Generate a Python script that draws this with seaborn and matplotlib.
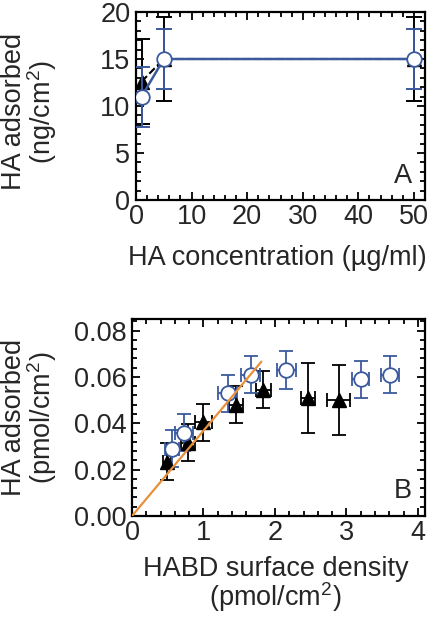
import numpy as np
import pandas as pd
import matplotlib
matplotlib.use("Agg")
import matplotlib.pyplot as plt
from matplotlib.ticker import MultipleLocator
import seaborn as sns

# Panel A: HA adsorbed vs HA concentration
conc = [1, 5, 50]
tri_a = [12.6, 15.0, 15.0]
tri_a_err = [4.5, 4.5, 4.5]
circ_a = [11.0, 15.0, 15.0]
circ_a_err = [3.2, 3.2, 3.2]

# Panel B: HA adsorbed vs HABD surface density
tri_x = [0.49, 0.78, 1.00, 1.46, 1.84, 2.46, 2.89]
tri_y = [0.0235, 0.0317, 0.0405, 0.048, 0.0545, 0.051, 0.050]
tri_xerr = [0.05, 0.10, 0.12, 0.10, 0.10, 0.10, 0.16]
tri_yerr = [0.008, 0.008, 0.008, 0.008, 0.008, 0.015, 0.015]
circ_x = [0.56, 0.73, 1.34, 1.66, 2.16, 3.20, 3.61]
circ_y = [0.029, 0.036, 0.053, 0.061, 0.063, 0.059, 0.061]
circ_xerr = [0.10, 0.13, 0.13, 0.13, 0.13, 0.12, 0.13]
circ_yerr = [0.008, 0.008, 0.008, 0.008, 0.008, 0.008, 0.008]
fit_x = [0.0, 1.81]
fit_y = [0.0, 0.0666]

BLUE = "#3b5a9d"
ORANGE = "#e8903a"

sns.set_style("ticks")
plt.rcParams["font.family"] = ["Liberation Sans", "DejaVu Sans"]
plt.rcParams["mathtext.fontset"] = "custom"
plt.rcParams["mathtext.rm"] = "Liberation Sans"
FS = 19.5
LS = 0.9

fig = plt.figure(figsize=(4.32, 6.18), dpi=100)
axA = fig.add_axes([136 / 432, 1 - 200 / 618, 289 / 432, 188 / 618])
axB = fig.add_axes([132 / 432, 1 - 516 / 618, 293 / 432, 197 / 618])


def style_axes(ax):
    for s in ax.spines.values():
        s.set_linewidth(1.6)
        s.set_color("black")
    ax.tick_params(which="both", direction="in", top=True, right=True,
                   width=1.3, color="black", labelsize=FS)
    ax.tick_params(which="major", length=6)
    ax.tick_params(which="minor", length=3.5)
    ax.tick_params(axis="x", pad=3)
    ax.tick_params(axis="y", pad=4)


# ---- Panel A
dfA = pd.DataFrame({"conc": conc, "tri": tri_a, "circ": circ_a})
axA.errorbar(conc, tri_a, yerr=tri_a_err, fmt="none", ecolor="black",
             elinewidth=1.4, capsize=5.5, capthick=1.4, zorder=2)
sns.lineplot(data=dfA, x="conc", y="tri", ax=axA, color="black",
             linestyle="--", linewidth=1.5, zorder=3)
axA.plot(conc, tri_a, "^", color="black", ms=10.5, zorder=4)
axA.errorbar(conc, circ_a, yerr=circ_a_err, fmt="none", ecolor=BLUE,
             elinewidth=1.4, capsize=5.5, capthick=1.4, zorder=5)
sns.lineplot(data=dfA, x="conc", y="circ", ax=axA, color=BLUE,
             linewidth=1.8, zorder=6)
axA.plot(conc, circ_a, "o", mfc="white", mec=BLUE, mew=1.3, ms=10.5, zorder=7)

axA.set_xlim(0, 52)
axA.set_ylim(0, 20)
axA.xaxis.set_major_locator(MultipleLocator(10))
axA.xaxis.set_minor_locator(MultipleLocator(2))
axA.yaxis.set_major_locator(MultipleLocator(5))
axA.yaxis.set_minor_locator(MultipleLocator(1))
style_axes(axA)
axA.set_xlabel("HA concentration (µg/ml)", fontsize=FS)
axA.set_ylabel("HA adsorbed\n(ng/cm$^2$)", fontsize=FS, linespacing=LS)
axA.xaxis.label.set_va("center")
axA.yaxis.label.set_va("center")
axA.xaxis.set_label_coords(0.49, -0.31)
axA.yaxis.set_label_coords(-0.367, 0.47)
axA.text(0.955, 0.06, "A", transform=axA.transAxes, fontsize=FS,
         ha="right", va="bottom")

# ---- Panel B
axB.errorbar(tri_x, tri_y, xerr=tri_xerr, yerr=tri_yerr, fmt="none",
             ecolor="black", elinewidth=1.3, capsize=5, capthick=1.3, zorder=2)
axB.errorbar(circ_x, circ_y, xerr=circ_xerr, yerr=circ_yerr, fmt="none",
             ecolor=BLUE, elinewidth=1.3, capsize=5, capthick=1.3, zorder=2)
axB.plot(tri_x, tri_y, "^", color="black", ms=10.5, zorder=4)
axB.plot(circ_x, circ_y, "o", mfc="white", mec=BLUE, mew=1.3, ms=10.5,
         zorder=4)
dfFit = pd.DataFrame({"x": fit_x, "y": fit_y})
sns.lineplot(data=dfFit, x="x", y="y", ax=axB, color=ORANGE, linewidth=1.6,
             zorder=6)

axB.set_xlim(0, 4.1)
axB.set_ylim(0, 0.085)
axB.xaxis.set_major_locator(MultipleLocator(1))
axB.xaxis.set_minor_locator(MultipleLocator(0.2))
axB.yaxis.set_major_locator(MultipleLocator(0.02))
axB.yaxis.set_minor_locator(MultipleLocator(0.004))
axB.yaxis.set_major_formatter(plt.FormatStrFormatter("%.2f"))
style_axes(axB)
axB.set_xlabel("HABD surface density\n(pmol/cm$^2$)", fontsize=FS,
               linespacing=LS)
axB.set_ylabel("HA adsorbed\n(pmol/cm$^2$)", fontsize=FS, linespacing=LS)
axB.xaxis.label.set_va("center")
axB.yaxis.label.set_va("center")
axB.xaxis.set_label_coords(0.49, -0.35)
axB.yaxis.set_label_coords(-0.348, 0.5)
axB.text(0.955, 0.06, "B", transform=axB.transAxes, fontsize=FS,
         ha="right", va="bottom")

fig.savefig("out.png", dpi=100)
